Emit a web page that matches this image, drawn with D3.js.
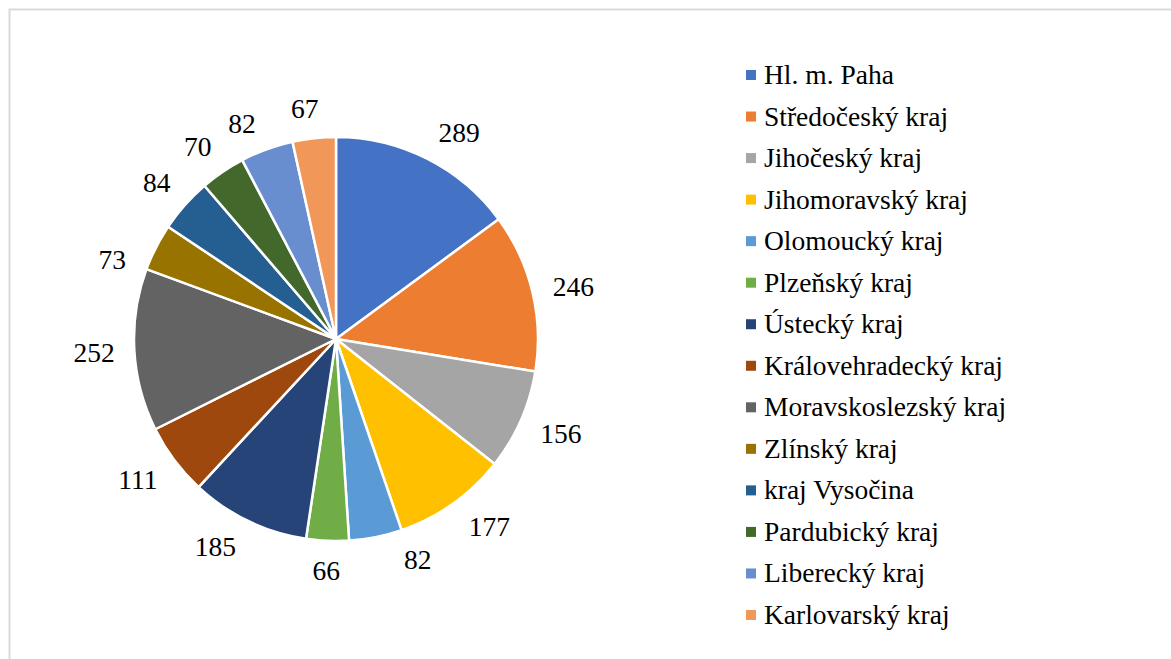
<!DOCTYPE html>
<html>
<head>
<meta charset="utf-8">
<script src="https://cdn.jsdelivr.net/npm/d3@7"></script>
</head>
<body style="margin:0">
<svg id="chart" width="1171" height="659"></svg>
<script>
// regions and counts
var regions = ["Hl. m. Paha", "Středočeský kraj", "Jihočeský kraj", "Jihomoravský kraj",
    "Olomoucký kraj", "Plzeňský kraj", "Ústecký kraj", "Královehradecký kraj",
    "Moravskoslezský kraj", "Zlínský kraj", "kraj Vysočina", "Pardubický kraj",
    "Liberecký kraj", "Karlovarský kraj"];
var counts = [289, 246, 156, 177, 82, 66, 185, 111, 252, 73, 84, 70, 82, 67];
var colors = ["#4472C4", "#ED7D31", "#A5A5A5", "#FFC000", "#5B9BD5", "#70AD47", "#264478",
    "#9E480E", "#636363", "#997300", "#255E91", "#43682B", "#698ED0", "#F1975A"];
// small angular nudges (degrees) Excel applied to keep labels apart
var labelNudge = [4, 1, -1, -4, -9, 0, 4.5, 1.5, 0, -7.5, -0.5, -1.5, -3.5, -1.5];

var width = 1171, height = 659;
var cx = 336, cy = 339, radius = 202, labelGap = 19;
var fontSize = "27.5px";

var svg = d3.select("#chart");

// chart area border (runs off the right and bottom)
svg.append("rect")
    .attr("x", 9.5)
    .attr("y", 9.5)
    .attr("width", width + 20)
    .attr("height", height + 20)
    .attr("fill", "none")
    .attr("stroke", "#d9d9d9")
    .attr("stroke-width", 2);

var data = regions.map((r, i) => ({ name: r, value: counts[i], color: colors[i] }));

var pie = d3.pie()
    .value(d => d.value)
    .sort(null);

var arc = d3.arc()
    .innerRadius(0)
    .outerRadius(radius);

var pieGroup = svg.append("g")
    .attr("transform", "translate(" + cx + "," + cy + ")");

var arcs = pie(data);

pieGroup.selectAll("path")
    .data(arcs)
    .enter()
    .append("path")
    .attr("d", arc)
    .attr("fill", d => d.data.color)
    .attr("stroke", "#fff")
    .attr("stroke-width", 2.5)
    .attr("stroke-linejoin", "round");

// outside-end labels: box pushed out so its edge touches radius + gap
var labels = pieGroup.selectAll("text")
    .data(arcs)
    .enter()
    .append("text")
    .attr("text-anchor", "middle")
    .attr("dy", "0.35em")
    .style("font-family", "'Liberation Serif', serif")
    .style("font-size", fontSize)
    .text(d => d.data.value);

labels.each(function(d, i) {
    var a = (d.startAngle + d.endAngle) / 2 + labelNudge[i] * Math.PI / 180;
    var s = Math.sin(a), c = Math.cos(a);
    var halfW = this.getComputedTextLength() / 2, halfH = 10;
    var dist = radius + labelGap + halfW * Math.abs(s) + halfH * Math.abs(c);
    d3.select(this)
        .attr("x", dist * s)
        .attr("y", -dist * c);
});

// legend
var legendY = d3.scalePoint()
    .domain(regions)
    .range([75, 615]);

var legend = svg.append("g");

legend.selectAll("rect")
    .data(data)
    .enter()
    .append("rect")
    .attr("x", 746)
    .attr("y", d => legendY(d.name) - 5)
    .attr("width", 10)
    .attr("height", 10)
    .attr("fill", d => d.color);

legend.selectAll("text")
    .data(data)
    .enter()
    .append("text")
    .attr("x", 764)
    .attr("y", d => legendY(d.name) + 9)
    .style("font-family", "'Liberation Serif', serif")
    .style("font-size", fontSize)
    .text(d => d.name);
</script>
</body>
</html>
